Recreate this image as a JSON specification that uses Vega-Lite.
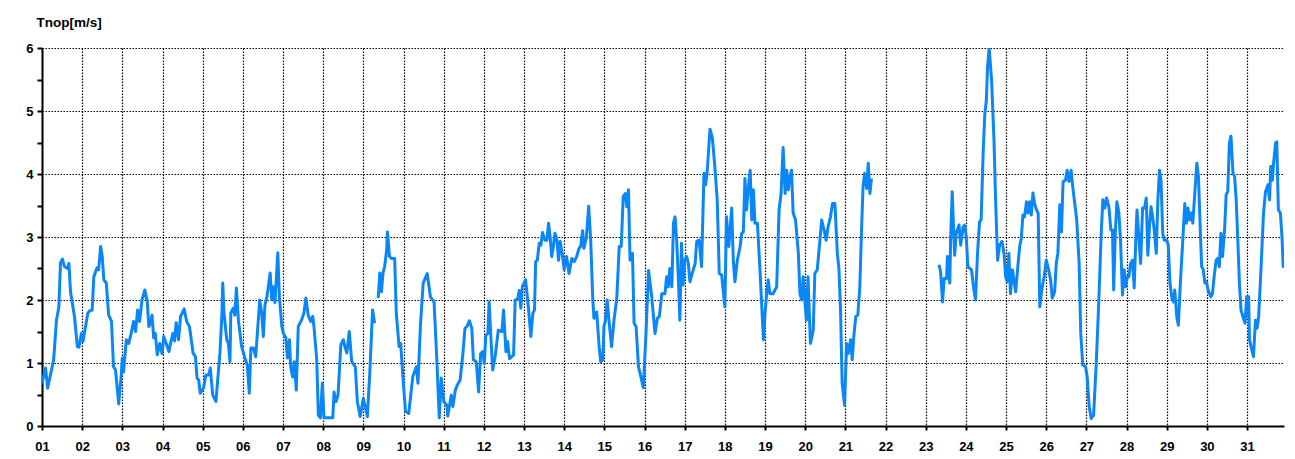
{
  "$schema": "https://vega.github.io/schema/vega-lite/v6.json",
  "width": 1242,
  "height": 378,
  "autosize": {"type": "none"},
  "padding": {"left": 42, "top": 48, "right": 11, "bottom": 33},
  "background": "white",
  "config": {"view": {"stroke": null}},
  "data": {"values": [
    {"d":1.00,"v":0.68},{"d":1.09,"v":0.92},{"d":1.14,"v":0.60},{"d":1.29,"v":1.05},{"d":1.36,"v":1.68},{"d":1.42,"v":1.89},{"d":1.46,"v":2.59},{"d":1.51,"v":2.65},{"d":1.56,"v":2.53},{"d":1.63,"v":2.50},{"d":1.67,"v":2.58},{"d":1.71,"v":2.13},{"d":1.81,"v":1.73},{"d":1.88,"v":1.26},{"d":1.92,"v":1.25},{"d":1.98,"v":1.47},
    {"d":2.02,"v":1.34},{"d":2.14,"v":1.79},{"d":2.19,"v":1.83},{"d":2.25,"v":1.84},{"d":2.29,"v":2.37},{"d":2.37,"v":2.51},{"d":2.41,"v":2.48},{"d":2.46,"v":2.85},{"d":2.50,"v":2.69},{"d":2.54,"v":2.32},{"d":2.60,"v":2.27},{"d":2.66,"v":1.76},{"d":2.73,"v":1.66},{"d":2.78,"v":0.94},{"d":2.83,"v":0.89},{"d":2.91,"v":0.35},{"d":2.97,"v":0.78},
    {"d":3.00,"v":1.08},{"d":3.03,"v":0.86},{"d":3.10,"v":1.37},{"d":3.16,"v":1.31},{"d":3.22,"v":1.47},{"d":3.28,"v":1.66},{"d":3.33,"v":1.50},{"d":3.38,"v":1.84},{"d":3.43,"v":1.66},{"d":3.49,"v":2.00},{"d":3.56,"v":2.16},{"d":3.62,"v":1.97},{"d":3.66,"v":1.58},{"d":3.70,"v":1.63},{"d":3.74,"v":1.76},{"d":3.78,"v":1.40},{"d":3.82,"v":1.47},{"d":3.87,"v":1.13},{"d":3.93,"v":1.31},{"d":3.99,"v":1.15},
    {"d":4.03,"v":1.42},{"d":4.12,"v":1.26},{"d":4.16,"v":1.18},{"d":4.21,"v":1.34},{"d":4.26,"v":1.47},{"d":4.30,"v":1.35},{"d":4.34,"v":1.64},{"d":4.40,"v":1.37},{"d":4.45,"v":1.74},{"d":4.54,"v":1.86},{"d":4.60,"v":1.66},{"d":4.67,"v":1.58},{"d":4.71,"v":1.40},{"d":4.76,"v":1.16},{"d":4.82,"v":1.10},{"d":4.86,"v":0.76},{"d":4.90,"v":0.73},{"d":4.94,"v":0.52},
    {"d":5.02,"v":0.60},{"d":5.08,"v":0.81},{"d":5.15,"v":0.81},{"d":5.19,"v":0.92},{"d":5.25,"v":0.49},{"d":5.33,"v":0.39},{"d":5.43,"v":1.16},{"d":5.48,"v":1.79},{"d":5.50,"v":2.27},{"d":5.53,"v":1.79},{"d":5.60,"v":1.37},{"d":5.64,"v":1.31},{"d":5.68,"v":1.02},{"d":5.70,"v":1.79},{"d":5.76,"v":1.87},{"d":5.80,"v":1.76},{"d":5.84,"v":2.19},{"d":5.89,"v":1.68},{"d":5.97,"v":1.26},
    {"d":6.05,"v":1.08},{"d":6.11,"v":0.97},{"d":6.16,"v":0.52},{"d":6.20,"v":1.24},{"d":6.26,"v":1.24},{"d":6.32,"v":1.10},{"d":6.42,"v":2.00},{"d":6.47,"v":1.79},{"d":6.51,"v":1.42},{"d":6.55,"v":1.92},{"d":6.60,"v":2.05},{"d":6.64,"v":2.24},{"d":6.68,"v":2.43},{"d":6.72,"v":2.00},{"d":6.76,"v":2.21},{"d":6.80,"v":1.96},{"d":6.87,"v":2.75},{"d":6.91,"v":2.05},{"d":6.97,"v":1.58},
    {"d":7.01,"v":1.47},{"d":7.07,"v":1.40},{"d":7.11,"v":1.08},{"d":7.16,"v":1.37},{"d":7.19,"v":0.94},{"d":7.24,"v":0.78},{"d":7.28,"v":1.02},{"d":7.33,"v":0.57},{"d":7.38,"v":1.58},{"d":7.46,"v":1.68},{"d":7.52,"v":1.79},{"d":7.57,"v":2.03},{"d":7.63,"v":1.75},{"d":7.69,"v":1.66},{"d":7.74,"v":1.74},{"d":7.77,"v":1.58},{"d":7.84,"v":1.05},{"d":7.88,"v":0.17},{"d":7.93,"v":0.13},{"d":7.98,"v":0.68},
    {"d":8.02,"v":0.13},{"d":8.12,"v":0.13},{"d":8.24,"v":0.13},{"d":8.27,"v":0.54},{"d":8.32,"v":0.39},{"d":8.37,"v":0.49},{"d":8.44,"v":1.29},{"d":8.50,"v":1.37},{"d":8.54,"v":1.26},{"d":8.59,"v":1.16},{"d":8.65,"v":1.50},{"d":8.71,"v":1.02},{"d":8.80,"v":0.94},{"d":8.85,"v":0.39},{"d":8.92,"v":0.15},
    {"d":9.00,"v":0.44},{"d":9.10,"v":0.15},{"d":9.16,"v":0.84},{"d":9.23,"v":1.84},{"d":9.28,"v":1.63},{"d":9.32,"v":null},{"d":9.37,"v":2.03},{"d":9.41,"v":2.43},{"d":9.45,"v":2.13},{"d":9.49,"v":2.43},{"d":9.53,"v":2.53},{"d":9.58,"v":2.79},{"d":9.60,"v":3.08},{"d":9.65,"v":2.69},{"d":9.70,"v":2.66},{"d":9.78,"v":2.66},{"d":9.82,"v":1.79},{"d":9.89,"v":1.26},{"d":9.93,"v":1.31},{"d":9.99,"v":0.73},
    {"d":10.05,"v":0.23},{"d":10.13,"v":0.20},{"d":10.23,"v":0.78},{"d":10.32,"v":0.94},{"d":10.36,"v":0.68},{"d":10.42,"v":1.58},{"d":10.49,"v":2.27},{"d":10.59,"v":2.42},{"d":10.67,"v":2.05},{"d":10.76,"v":1.97},{"d":10.83,"v":1.05},{"d":10.89,"v":0.13},{"d":10.94,"v":0.76},
    {"d":11.00,"v":0.39},{"d":11.08,"v":0.33},{"d":11.10,"v":0.16},{"d":11.19,"v":0.49},{"d":11.23,"v":0.31},{"d":11.29,"v":0.57},{"d":11.34,"v":0.65},{"d":11.41,"v":0.73},{"d":11.48,"v":1.16},{"d":11.53,"v":1.55},{"d":11.58,"v":1.58},{"d":11.64,"v":1.67},{"d":11.70,"v":1.55},{"d":11.74,"v":1.05},{"d":11.81,"v":1.02},{"d":11.87,"v":0.54},{"d":11.92,"v":1.15},{"d":11.97,"v":1.18},
    {"d":12.01,"v":0.99},{"d":12.05,"v":1.44},{"d":12.10,"v":1.47},{"d":12.13,"v":1.97},{"d":12.17,"v":1.47},{"d":12.22,"v":0.89},{"d":12.28,"v":1.10},{"d":12.36,"v":1.52},{"d":12.45,"v":1.50},{"d":12.49,"v":1.84},{"d":12.55,"v":1.18},{"d":12.59,"v":1.34},{"d":12.64,"v":1.07},{"d":12.74,"v":1.13},{"d":12.78,"v":2.00},{"d":12.84,"v":2.01},{"d":12.88,"v":2.15},{"d":12.92,"v":1.87},{"d":12.96,"v":2.22},
    {"d":13.04,"v":2.32},{"d":13.11,"v":1.87},{"d":13.17,"v":1.42},{"d":13.22,"v":1.79},{"d":13.26,"v":1.84},{"d":13.29,"v":2.61},{"d":13.33,"v":2.63},{"d":13.38,"v":2.90},{"d":13.42,"v":2.87},{"d":13.46,"v":3.07},{"d":13.52,"v":2.95},{"d":13.57,"v":2.95},{"d":13.61,"v":3.22},{"d":13.65,"v":3.00},{"d":13.69,"v":2.69},{"d":13.73,"v":2.85},{"d":13.77,"v":3.06},{"d":13.82,"v":2.95},{"d":13.86,"v":2.63},{"d":13.90,"v":2.93},{"d":13.95,"v":2.74},
    {"d":14.00,"v":2.48},{"d":14.06,"v":2.69},{"d":14.12,"v":2.42},{"d":14.19,"v":2.66},{"d":14.25,"v":2.61},{"d":14.31,"v":2.69},{"d":14.37,"v":2.82},{"d":14.41,"v":2.85},{"d":14.46,"v":3.10},{"d":14.49,"v":2.82},{"d":14.55,"v":2.98},{"d":14.61,"v":3.49},{"d":14.66,"v":2.95},{"d":14.71,"v":2.04},{"d":14.74,"v":1.71},{"d":14.81,"v":1.81},{"d":14.87,"v":1.26},{"d":14.91,"v":1.02},{"d":14.96,"v":1.05},{"d":14.99,"v":1.58},
    {"d":15.03,"v":1.68},{"d":15.07,"v":2.00},{"d":15.12,"v":1.64},{"d":15.18,"v":1.26},{"d":15.24,"v":1.68},{"d":15.31,"v":2.03},{"d":15.37,"v":2.85},{"d":15.42,"v":2.85},{"d":15.47,"v":3.64},{"d":15.52,"v":3.69},{"d":15.56,"v":3.48},{"d":15.60,"v":3.75},{"d":15.64,"v":2.63},{"d":15.70,"v":2.74},{"d":15.74,"v":1.63},{"d":15.79,"v":1.58},{"d":15.85,"v":0.94},{"d":15.91,"v":0.78},{"d":15.97,"v":0.61},
    {"d":16.04,"v":1.52},{"d":16.10,"v":2.47},{"d":16.18,"v":2.05},{"d":16.26,"v":1.47},{"d":16.32,"v":1.71},{"d":16.37,"v":1.74},{"d":16.43,"v":2.10},{"d":16.51,"v":2.10},{"d":16.55,"v":2.37},{"d":16.59,"v":2.21},{"d":16.63,"v":2.50},{"d":16.68,"v":2.21},{"d":16.72,"v":3.22},{"d":16.76,"v":3.32},{"d":16.80,"v":2.95},{"d":16.84,"v":2.37},{"d":16.88,"v":1.68},{"d":16.92,"v":2.90},{"d":16.96,"v":2.24},
    {"d":17.00,"v":2.63},{"d":17.05,"v":2.69},{"d":17.09,"v":2.58},{"d":17.13,"v":2.29},{"d":17.20,"v":2.45},{"d":17.26,"v":2.58},{"d":17.30,"v":2.93},{"d":17.36,"v":2.95},{"d":17.42,"v":2.53},{"d":17.48,"v":4.01},{"d":17.52,"v":3.83},{"d":17.56,"v":4.04},{"d":17.63,"v":4.71},{"d":17.69,"v":4.57},{"d":17.75,"v":4.12},{"d":17.81,"v":3.59},{"d":17.86,"v":2.42},{"d":17.92,"v":2.40},
    {"d":18.00,"v":1.89},{"d":18.04,"v":3.32},{"d":18.10,"v":2.85},{"d":18.17,"v":3.46},{"d":18.21,"v":2.63},{"d":18.25,"v":2.29},{"d":18.31,"v":2.63},{"d":18.38,"v":2.85},{"d":18.42,"v":3.06},{"d":18.46,"v":3.08},{"d":18.50,"v":3.93},{"d":18.54,"v":3.43},{"d":18.58,"v":3.75},{"d":18.63,"v":4.06},{"d":18.67,"v":3.27},{"d":18.71,"v":3.75},{"d":18.75,"v":3.22},{"d":18.81,"v":3.22},{"d":18.87,"v":2.53},{"d":18.92,"v":1.89},{"d":18.96,"v":1.37},
    {"d":19.00,"v":1.79},{"d":19.04,"v":2.10},{"d":19.08,"v":2.32},{"d":19.12,"v":2.10},{"d":19.20,"v":2.10},{"d":19.29,"v":2.21},{"d":19.35,"v":3.43},{"d":19.40,"v":3.69},{"d":19.45,"v":4.42},{"d":19.50,"v":3.69},{"d":19.54,"v":4.06},{"d":19.58,"v":3.75},{"d":19.62,"v":3.96},{"d":19.66,"v":4.06},{"d":19.70,"v":3.38},{"d":19.76,"v":3.27},{"d":19.83,"v":2.74},{"d":19.87,"v":2.10},{"d":19.91,"v":2.00},{"d":19.95,"v":2.37},{"d":19.99,"v":2.00},
    {"d":20.03,"v":1.68},{"d":20.07,"v":2.37},{"d":20.13,"v":1.31},{"d":20.20,"v":1.52},{"d":20.24,"v":2.42},{"d":20.30,"v":2.48},{"d":20.36,"v":2.90},{"d":20.41,"v":3.27},{"d":20.47,"v":3.11},{"d":20.52,"v":2.95},{"d":20.57,"v":3.16},{"d":20.63,"v":3.32},{"d":20.68,"v":3.53},{"d":20.74,"v":3.53},{"d":20.80,"v":2.74},{"d":20.84,"v":2.50},{"d":20.88,"v":1.84},{"d":20.92,"v":0.68},{"d":20.98,"v":0.33},
    {"d":21.03,"v":1.31},{"d":21.07,"v":1.15},{"d":21.13,"v":1.37},{"d":21.17,"v":1.05},{"d":21.21,"v":1.42},{"d":21.26,"v":1.74},{"d":21.31,"v":1.76},{"d":21.36,"v":2.21},{"d":21.40,"v":3.06},{"d":21.44,"v":3.80},{"d":21.48,"v":4.01},{"d":21.53,"v":3.77},{"d":21.57,"v":4.17},{"d":21.61,"v":3.69},{"d":21.65,"v":3.93},
    {"d":22.50,"v":null},
    {"d":23.33,"v":2.56},{"d":23.37,"v":2.45},{"d":23.42,"v":1.97},{"d":23.46,"v":2.34},{"d":23.52,"v":2.34},{"d":23.54,"v":2.69},{"d":23.60,"v":2.27},{"d":23.62,"v":2.95},{"d":23.66,"v":3.72},{"d":23.72,"v":2.71},{"d":23.76,"v":3.06},{"d":23.83,"v":3.19},{"d":23.87,"v":2.87},{"d":23.93,"v":3.16},{"d":23.97,"v":3.19},
    {"d":24.01,"v":3.00},{"d":24.05,"v":2.53},{"d":24.14,"v":2.48},{"d":24.19,"v":2.21},{"d":24.24,"v":2.00},{"d":24.29,"v":2.74},{"d":24.34,"v":3.24},{"d":24.38,"v":3.27},{"d":24.43,"v":4.33},{"d":24.47,"v":4.94},{"d":24.51,"v":5.17},{"d":24.54,"v":5.70},{"d":24.58,"v":6.00},{"d":24.64,"v":5.49},{"d":24.70,"v":4.54},{"d":24.74,"v":3.59},{"d":24.79,"v":2.63},{"d":24.84,"v":2.87},{"d":24.90,"v":2.93},{"d":24.95,"v":2.74},{"d":24.99,"v":2.37},
    {"d":25.03,"v":2.29},{"d":25.07,"v":2.74},{"d":25.11,"v":2.10},{"d":25.16,"v":2.48},{"d":25.20,"v":2.29},{"d":25.24,"v":2.13},{"d":25.30,"v":2.58},{"d":25.34,"v":2.85},{"d":25.38,"v":2.98},{"d":25.42,"v":3.35},{"d":25.46,"v":3.32},{"d":25.51,"v":3.56},{"d":25.55,"v":3.38},{"d":25.59,"v":3.56},{"d":25.63,"v":3.35},{"d":25.67,"v":3.70},{"d":25.71,"v":3.53},{"d":25.76,"v":3.43},{"d":25.80,"v":3.38},{"d":25.84,"v":1.89},{"d":25.90,"v":2.21},{"d":25.95,"v":2.37},
    {"d":26.00,"v":2.63},{"d":26.06,"v":2.48},{"d":26.11,"v":2.32},{"d":26.15,"v":2.03},{"d":26.21,"v":2.13},{"d":26.25,"v":2.58},{"d":26.29,"v":2.74},{"d":26.34,"v":3.51},{"d":26.38,"v":3.08},{"d":26.42,"v":3.88},{"d":26.48,"v":3.90},{"d":26.52,"v":4.06},{"d":26.57,"v":3.88},{"d":26.62,"v":4.06},{"d":26.66,"v":3.80},{"d":26.70,"v":3.59},{"d":26.76,"v":3.27},{"d":26.82,"v":2.58},{"d":26.86,"v":1.47},{"d":26.91,"v":0.97},{"d":26.98,"v":0.94},
    {"d":27.02,"v":0.78},{"d":27.07,"v":0.31},{"d":27.12,"v":0.12},{"d":27.18,"v":0.17},{"d":27.25,"v":1.05},{"d":27.31,"v":2.00},{"d":27.37,"v":3.06},{"d":27.41,"v":3.59},{"d":27.46,"v":3.46},{"d":27.50,"v":3.62},{"d":27.56,"v":3.48},{"d":27.61,"v":3.11},{"d":27.65,"v":3.11},{"d":27.68,"v":2.16},{"d":27.72,"v":3.06},{"d":27.76,"v":3.56},{"d":27.81,"v":3.38},{"d":27.85,"v":2.95},{"d":27.90,"v":2.08},{"d":27.94,"v":2.48},{"d":27.98,"v":2.21},
    {"d":28.02,"v":2.37},{"d":28.06,"v":2.37},{"d":28.10,"v":2.58},{"d":28.15,"v":2.63},{"d":28.19,"v":2.19},{"d":28.23,"v":2.95},{"d":28.26,"v":3.43},{"d":28.30,"v":3.06},{"d":28.35,"v":2.58},{"d":28.40,"v":3.46},{"d":28.45,"v":3.46},{"d":28.49,"v":3.62},{"d":28.53,"v":2.71},{"d":28.57,"v":3.16},{"d":28.61,"v":3.48},{"d":28.65,"v":3.32},{"d":28.69,"v":3.11},{"d":28.74,"v":2.74},{"d":28.78,"v":3.59},{"d":28.82,"v":4.06},{"d":28.86,"v":3.88},{"d":28.90,"v":3.06},{"d":28.94,"v":2.95},
    {"d":29.00,"v":2.95},{"d":29.04,"v":2.87},{"d":29.08,"v":2.27},{"d":29.13,"v":2.03},{"d":29.17,"v":1.97},{"d":29.20,"v":2.16},{"d":29.25,"v":1.74},{"d":29.29,"v":1.60},{"d":29.34,"v":2.27},{"d":29.40,"v":2.95},{"d":29.45,"v":3.53},{"d":29.49,"v":3.22},{"d":29.53,"v":3.46},{"d":29.57,"v":3.27},{"d":29.61,"v":3.38},{"d":29.65,"v":3.22},{"d":29.71,"v":3.80},{"d":29.75,"v":4.17},{"d":29.79,"v":3.96},{"d":29.83,"v":3.22},{"d":29.87,"v":2.53},{"d":29.91,"v":2.48},{"d":29.95,"v":2.27},{"d":29.99,"v":2.29},
    {"d":30.03,"v":2.16},{"d":30.10,"v":2.05},{"d":30.14,"v":2.10},{"d":30.18,"v":2.37},{"d":30.23,"v":2.63},{"d":30.27,"v":2.66},{"d":30.31,"v":2.53},{"d":30.35,"v":3.06},{"d":30.39,"v":2.69},{"d":30.44,"v":3.11},{"d":30.48,"v":3.67},{"d":30.52,"v":3.72},{"d":30.56,"v":4.49},{"d":30.60,"v":4.60},{"d":30.65,"v":4.01},{"d":30.69,"v":3.96},{"d":30.73,"v":3.59},{"d":30.77,"v":2.95},{"d":30.81,"v":2.27},{"d":30.85,"v":1.84},{"d":30.91,"v":1.71},{"d":30.95,"v":1.63},{"d":30.99,"v":2.05},
    {"d":31.04,"v":2.05},{"d":31.06,"v":1.37},{"d":31.10,"v":1.26},{"d":31.16,"v":1.10},{"d":31.21,"v":1.68},{"d":31.25,"v":1.55},{"d":31.29,"v":1.74},{"d":31.35,"v":2.53},{"d":31.41,"v":3.38},{"d":31.46,"v":3.72},{"d":31.52,"v":3.83},{"d":31.56,"v":3.59},{"d":31.59,"v":4.12},{"d":31.63,"v":3.90},{"d":31.66,"v":4.17},{"d":31.71,"v":4.49},{"d":31.74,"v":4.51},{"d":31.78,"v":3.43},{"d":31.83,"v":3.38},{"d":31.87,"v":3.00},{"d":31.90,"v":2.53},{"d":31.92,"v":2.58}
  ]},
  "mark": {"type": "line", "color": "#0a86f7", "strokeWidth": 3, "strokeJoin": "round", "invalid": "break-paths-show-domains", "clip": true},
  "encoding": {
    "x": {
      "field": "d", "type": "quantitative",
      "scale": {"domain": [1, 31.92], "nice": false, "zero": false},
      "axis": {
        "values": [1,2,3,4,5,6,7,8,9,10,11,12,13,14,15,16,17,18,19,20,21,22,23,24,25,26,27,28,29,30,31],
        "title": null,
        "labelExpr": "(datum.value < 10 ? '0' : '') + datum.value",
        "labelFont": "Liberation Sans", "labelFontWeight": "bold", "labelFontSize": 13, "labelColor": "black",
        "labelFlush": false, "labelOverlap": false, "labelPadding": 10,
        "domainColor": "black", "domainWidth": 2,
        "tickColor": "black", "tickWidth": 2, "tickSize": 4,
        "grid": true, "gridColor": "black", "gridDash": [1.5, 1.5], "gridWidth": 1.2
      }
    },
    "y": {
      "field": "v", "type": "quantitative",
      "scale": {"domain": [0, 6], "nice": false},
      "axis": {
        "values": [0,0.5,1,1.5,2,2.5,3,3.5,4,4.5,5,5.5,6],
        "labelExpr": "datum.value % 1 === 0 ? '' + datum.value : ''",
        "labelFont": "Liberation Sans", "labelFontWeight": "bold", "labelFontSize": 13, "labelColor": "black",
        "labelPadding": 4, "labelOverlap": false, "labelFlush": false,
        "domainColor": "black", "domainWidth": 2,
        "tickColor": "black", "tickWidth": 2, "tickSize": 5,
        "grid": true, "gridColor": "black", "gridDash": [1.5, 1.5], "gridWidth": 1.2,
        "gridOpacity": {"condition": {"test": "datum.value % 1 !== 0", "value": 0}, "value": 1},
        "title": "Tnop[m/s]",
        "titleAngle": 0, "titleAlign": "left", "titleBaseline": "middle",
        "titleX": -6, "titleY": -26,
        "titleFont": "Liberation Sans", "titleFontWeight": "bold", "titleFontSize": 13.5, "titleColor": "black"
      }
    }
  }
}
